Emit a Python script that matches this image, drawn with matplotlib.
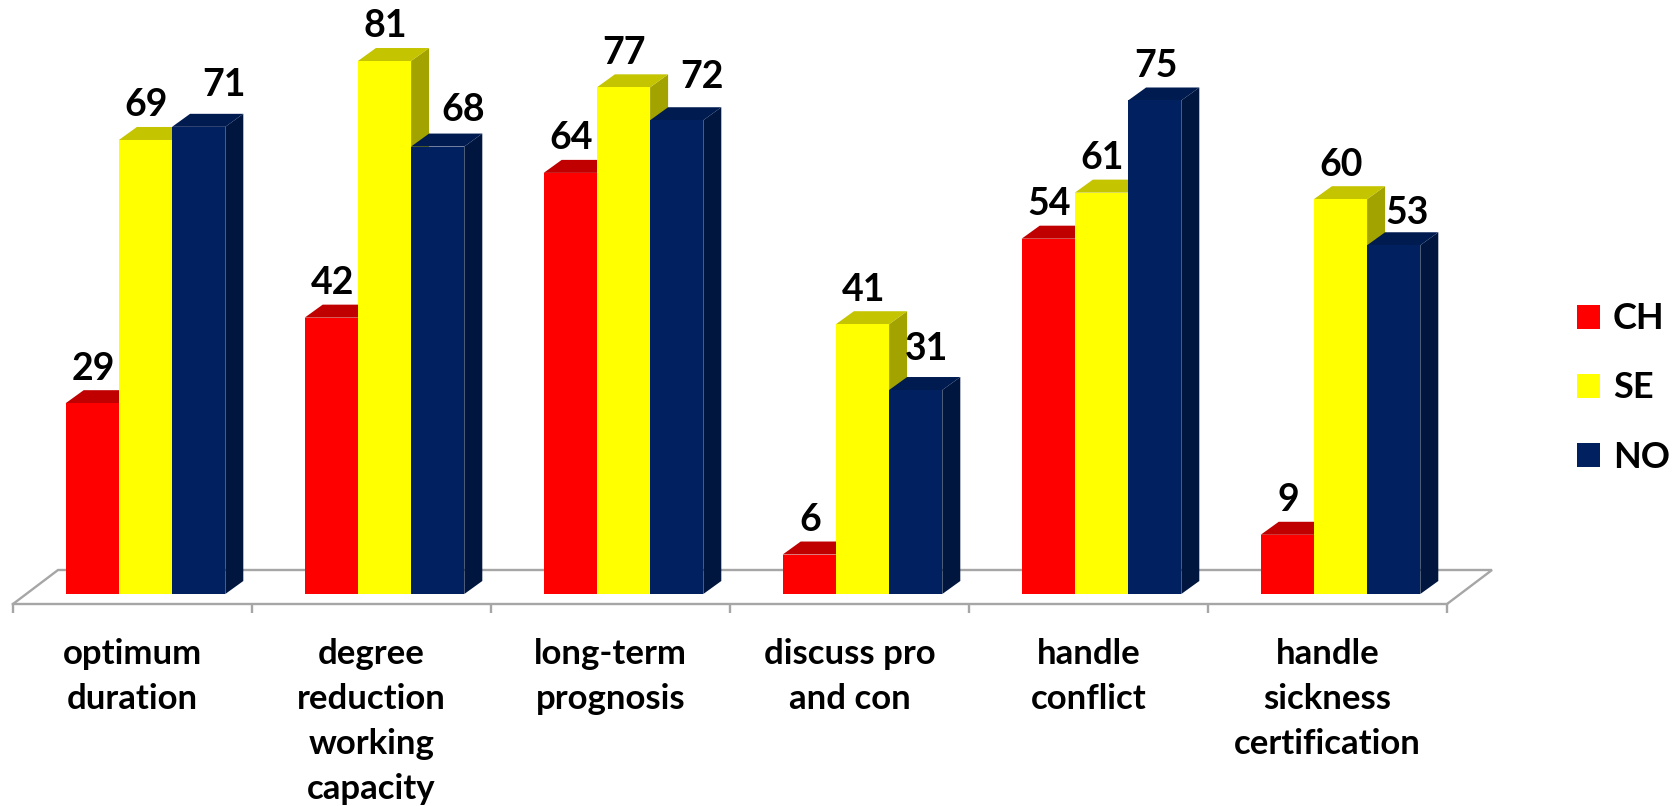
import matplotlib
matplotlib.use("Agg")
import matplotlib.pyplot as plt
from matplotlib.patches import Polygon, Patch

plt.rcParams['font.family'] = ['Lato', 'DejaVu Sans']

categories = ["optimum\nduration", "degree\nreduction\nworking\ncapacity", "long-term\nprognosis",
              "discuss pro\nand con", "handle\nconflict", "handle\nsickness\ncertification"]
series_names = ["CH", "SE", "NO"]
ch_values = [29, 42, 64, 6, 54, 9]
se_values = [69, 81, 77, 41, 61, 60]
no_values = [71, 68, 72, 31, 75, 53]

front_colors = ["#FF0000", "#FFFF00", "#002060"]
top_colors = ["#C00000", "#C4C400", "#001B50"]
side_colors = ["#A00000", "#A3A300", "#00163F"]
floor_color = "#A6A6A6"

# NOのラベルだけ手で動かされている（ピクセル）
no_label_dx = [24, 24, 24, 10, 0, 12]
no_label_dy = [7, 2, 9, 6, 0, -2]

# 図全体を1つの軸に（ピクセル合わせ）
W, H = 1680, 806
PX_X = 239.0   # 1グループの幅
PX_Y = 6.58    # 値1あたりの高さ
BASE_Y = 594
LEFT_X = 13
PT = 0.72      # px -> pt

fig = plt.figure(figsize=(W / 100, H / 100), dpi=100)
ax = fig.add_axes([0, 0, 1, 1])
x0 = -0.5 - LEFT_X / PX_X
ax.set_xlim(x0, x0 + W / PX_X)
ax.set_ylim(-(H - BASE_Y) / PX_Y, BASE_Y / PX_Y)

bar_w = 53.2 / PX_X
shift = 13 / PX_X        # バーは目盛の中央より少し右
dep_x = 18 / PX_X
dep_y = 13 / PX_Y
floor_y = -10 / PX_Y
floor_back = 24 / PX_Y
floor_dx = 45 / PX_X

# 床
ax.plot([-0.5, -0.5 + floor_dx, 5.5 + floor_dx, 5.5], [floor_y, floor_back, floor_back, floor_y],
        color=floor_color, lw=1.7, zorder=1, solid_joinstyle='miter')
ax.spines[['top', 'left', 'right']].set_visible(False)
ax.spines['bottom'].set_position(('data', floor_y))
ax.spines['bottom'].set_bounds(-0.5, 5.5)
ax.spines['bottom'].set_color(floor_color)
ax.spines['bottom'].set_linewidth(1.7)
ax.yaxis.set_visible(False)
ax.set_xticks(range(len(categories)))
ax.set_xticklabels(categories, fontsize=25, fontweight='bold', linespacing=1.5)
ax.tick_params(axis='x', which='major', length=0, pad=24.5)
ax.set_xticks([i - 0.5 for i in range(len(categories) + 1)], minor=True)
ax.tick_params(axis='x', which='minor', length=6.5, width=1.7, color=floor_color)

# 3Dバー（左から順に描いて隠面処理）
for s, values in enumerate([ch_values, se_values, no_values]):
    for g, v in enumerate(values):
        left = g + shift - 1.5 * bar_w + s * bar_w
        right = left + bar_w
        z = 3 + s
        ax.add_patch(Polygon([(right, 0), (right + dep_x, dep_y), (right + dep_x, v + dep_y), (right, v)],
                             facecolor=side_colors[s], edgecolor='none', zorder=z))
        ax.add_patch(Polygon([(left, v), (left + dep_x, v + dep_y), (right + dep_x, v + dep_y), (right, v)],
                             facecolor=top_colors[s], edgecolor='none', zorder=z))
        ax.bar(left + bar_w / 2, v, width=bar_w, color=front_colors[s], zorder=z)
        dx = no_label_dx[g] if s == 2 else 0
        dy = no_label_dy[g] if s == 2 else 0
        ax.annotate(str(v), (left + bar_w / 2 + 1 / PX_X, v), xytext=(dx * PT, 17 + dy * PT),
                    textcoords='offset points', ha='center', va='baseline',
                    fontsize=27, fontweight='bold', color='black', zorder=10)

handles = [Patch(facecolor=c, edgecolor='none') for c in front_colors]
ax.legend(handles, series_names, loc='center left', bbox_to_anchor=(1577 / W, 1 - 388 / H),
          bbox_transform=fig.transFigure, frameon=False,
          prop={'family': 'Lato', 'weight': 'bold', 'size': 26},
          handlelength=0.63, handleheight=0.63, handletextpad=0.36, labelspacing=1.0,
          borderpad=0, borderaxespad=0)

fig.savefig("out.png", dpi=100, facecolor='white')
